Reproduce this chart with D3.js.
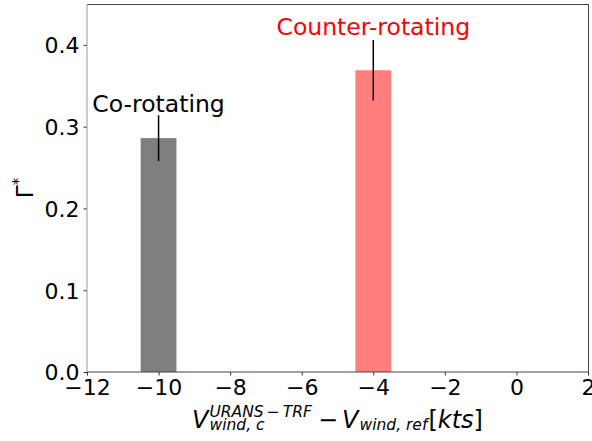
<!DOCTYPE html>
<html>
<head>
<meta charset="utf-8">
<script src="https://cdn.jsdelivr.net/npm/d3@7"></script>
<style>
  body { margin: 0; background: #fff; }
  svg text { font-family: "DejaVu Sans", sans-serif; }
</style>
</head>
<body>
<div id="chart"></div>
<script>
// DATA
var categories = ["Co-rotating", "Counter-rotating"];
var xValues = [-10, -4];           // V_wind diff [kts]
var gammaValues = [0.286, 0.369];  // bar heights
var errValues = [0.028, 0.037];    // half length of error bars
var labelY = [0.318, 0.412];       // where the text labels sit
var barColors = ["#7f7f7f", "#ff7f7f"];
var textColors = ["#000000", "#ff0000"];
var xTicks = [-12, -10, -8, -6, -4, -2, 0, 2];
var yTicks = [0.0, 0.1, 0.2, 0.3, 0.4];

// SETUP
var width = 592, height = 441;
var margin = {top: 4, right: 4, bottom: 69, left: 87};
var w = width - margin.left - margin.right,
    h = height - margin.top - margin.bottom;

var svg = d3.select("#chart").append("svg")
    .attr("width", width)
    .attr("height", height);

var g = svg.append("g")
    .attr("transform", "translate(" + margin.left + "," + margin.top + ")");

var x = d3.scaleLinear().domain([-12, 2]).range([0, w]);
var y = d3.scaleLinear().domain([0, 0.45]).range([h, 0]);

// bars (width = 1 kt)
g.selectAll("rect.bar")
  .data(xValues)
  .enter().append("rect")
    .attr("class", "bar")
    .attr("x", function(d) { return x(d - 0.5); })
    .attr("width", function(d) { return x(d + 0.5) - x(d - 0.5); })
    .attr("y", function(d, i) { return y(gammaValues[i]); })
    .attr("height", function(d, i) { return y(0) - y(gammaValues[i]); })
    .attr("fill", function(d, i) { return barColors[i]; });

// error bars
g.selectAll("line.err")
  .data(xValues)
  .enter().append("line")
    .attr("class", "err")
    .attr("x1", function(d) { return x(d); })
    .attr("x2", function(d) { return x(d); })
    .attr("y1", function(d, i) { return y(gammaValues[i] + errValues[i]); })
    .attr("y2", function(d, i) { return y(gammaValues[i] - errValues[i]); })
    .attr("stroke", "#000")
    .attr("stroke-width", 1.5);

// labels
g.selectAll("text.lab")
  .data(categories)
  .enter().append("text")
    .attr("class", "lab")
    .attr("x", function(d, i) { return x(xValues[i]); })
    .attr("y", function(d, i) { return y(labelY[i]); })
    .attr("text-anchor", "middle")
    .style("font-size", "23.5px")
    .attr("fill", function(d, i) { return textColors[i]; })
    .text(function(d) { return d; });

// AXES
var xAxis = d3.axisBottom(x).tickValues(xTicks).tickSize(3.5).tickPadding(4)
    .tickFormat(function(d) { return d < 0 ? "\u2212" + Math.abs(d) : d; });
var yAxis = d3.axisLeft(y).tickValues(yTicks).tickSize(3.5).tickPadding(4)
    .tickFormat(d3.format(".1f"));

var gx = g.append("g").attr("transform", "translate(0," + h + ")").call(xAxis);
var gy = g.append("g").call(yAxis);
[gx, gy].forEach(function(a) {
  a.select(".domain").remove();
  a.selectAll(".tick line").attr("stroke", "#333");
  a.selectAll(".tick text").style("font-size", "22px").attr("fill", "#000");
});
gy.selectAll(".tick text").attr("dy", "0.36em");

// spines
g.append("line").attr("x1", 0).attr("x2", w).attr("y1", 0.5).attr("y2", 0.5).attr("stroke", "#444");
g.append("line").attr("x1", 0).attr("x2", w).attr("y1", h).attr("y2", h).attr("stroke", "#444");
g.append("line").attr("x1", w + 0.5).attr("x2", w + 0.5).attr("y1", 0).attr("y2", h).attr("stroke", "#444");
g.append("line").attr("x1", 0).attr("x2", 0).attr("y1", 0).attr("y2", h).attr("stroke", "#999");

// Y LABEL  (Gamma*)
var yl = svg.append("text")
    .attr("transform", "translate(33," + (margin.top + h / 2) + ") rotate(-90)")
    .attr("text-anchor", "middle")
    .style("font-size", "23px");
yl.append("tspan").text("\u0393");
yl.append("tspan").attr("dy", -9).style("font-size", "15px").text("*");

// X LABEL (mathtext-ish, laid out piece by piece)
var xl = svg.append("g");
var cur = 0;
function piece(txt, size, italic, dy) {
  var t = xl.append("text")
      .attr("x", cur).attr("y", dy)
      .style("font-size", size + "px")
      .style("font-style", italic ? "italic" : "normal")
      .text(txt);
  return t.node().getComputedTextLength();
}
var wV = piece("V", 24, true, 0);
cur += wV + 1;
var wSup = piece("URANS\u2009\u2212\u2009TRF", 15.5, true, -11);
var wSub = piece("wind, c", 15.5, true, 2);
cur += Math.max(wSup, wSub) + 6;
cur += piece("\u2212", 24, false, 0) + 4;
cur += piece("V", 24, true, 0) + 1;
cur += piece("wind, ref", 15.5, true, 2) + 1;
cur += piece("[", 24, false, 0);
cur += piece("kts", 24, true, 0);
cur += piece("]", 24, false, 0);
xl.attr("transform", "translate(" + (margin.left + w / 2 - cur / 2) + ",428)");
</script>
</body>
</html>
